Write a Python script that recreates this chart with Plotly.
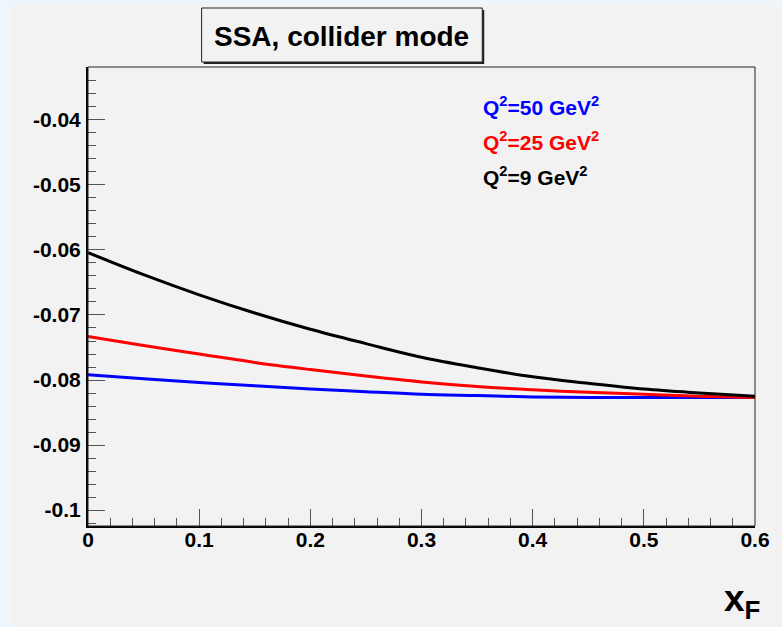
import plotly.graph_objects as go

# ---- data ----
xf = [0.0, 0.05, 0.1, 0.15, 0.2, 0.25, 0.3, 0.35, 0.4, 0.45, 0.5, 0.55, 0.6]
ssa_q50 = [-0.0792, -0.0798, -0.0804, -0.0809, -0.0814, -0.0818, -0.0822, -0.0824, -0.0826, -0.0827, -0.0827, -0.0827, -0.0827]
ssa_q25 = [-0.0733, -0.0747, -0.0760, -0.0773, -0.0784, -0.0794, -0.0803, -0.0810, -0.0815, -0.0819, -0.0822, -0.0825, -0.0827]
ssa_q9 = [-0.0604, -0.0638, -0.0669, -0.0697, -0.0722, -0.0744, -0.0765, -0.0781, -0.0795, -0.0805, -0.0814, -0.0820, -0.0825]

series_names = ["Q<sup>2</sup>=50 GeV<sup>2</sup>", "Q<sup>2</sup>=25 GeV<sup>2</sup>", "Q<sup>2</sup>=9 GeV<sup>2</sup>"]
series_colors = ["#0000ff", "#ff0000", "#000000"]

x_tickvals = [0, 0.1, 0.2, 0.3, 0.4, 0.5, 0.6]
x_ticktext = ["0", "0.1", "0.2", "0.3", "0.4", "0.5", "0.6"]
y_tickvals = [-0.04, -0.05, -0.06, -0.07, -0.08, -0.09, -0.1]
y_ticktext = ["-0.04", "-0.05", "-0.06", "-0.07", "-0.08", "-0.09", "-0.1"]

title_text = "SSA, collider mode"
xaxis_title = "x<sub>F</sub>"

# ---- layout geometry (pixels) ----
W, H = 782, 627
L, R, T, B = 88, 19, 67, 101
pw, ph = W - L - R, H - T - B


def px(xp):
    return (xp - L) / pw


def py(yp):
    return (H - B - yp) / ph


FONT = "Liberation Sans, Arial, sans-serif"
BG = "#f2f2f2"

fig = go.Figure()
for ys, name, col in zip([ssa_q50, ssa_q25, ssa_q9], series_names, series_colors):
    fig.add_trace(go.Scatter(x=xf, y=ys, mode="lines", name=name,
                             line=dict(color=col, width=3, shape="spline"),
                             showlegend=False, hoverinfo="skip"))

shapes = [
    # gray canvas
    dict(type="rect", xref="paper", yref="paper", x0=px(10), x1=px(W + 20), y0=py(H + 20), y1=py(6),
         fillcolor=BG, line=dict(width=0), layer="below"),
    # frame (thin top/right)
    dict(type="rect", xref="paper", yref="paper", x0=0, x1=1, y0=0, y1=1,
         line=dict(color="#222222", width=1), layer="above"),
    # title box shadow
    dict(type="rect", xref="paper", yref="paper", x0=px(205), x1=px(489), y0=py(64), y1=py(10),
         fillcolor="#222222", line=dict(width=0), layer="above"),
    # title box
    dict(type="rect", xref="paper", yref="paper", x0=px(203), x1=px(487), y0=py(62), y1=py(8),
         fillcolor=BG, line=dict(color="#222222", width=1), layer="above"),
]

annotations = [
    dict(text="<b>%s</b>" % title_text, xref="paper", yref="paper", x=px(345), y=py(36),
         xanchor="center", yanchor="middle", showarrow=False,
         font=dict(family=FONT, size=28, color="#000000")),
    dict(text="<b>%s</b>" % xaxis_title, xref="paper", yref="paper", x=px(770), y=py(601),
         xanchor="right", yanchor="middle", showarrow=False,
         font=dict(family=FONT, size=37, color="#000000")),
]
leg_y = [106, 141, 176]
for name, col, yy in zip(series_names, series_colors, leg_y):
    annotations.append(dict(text="<b>%s</b>" % name, xref="paper", yref="paper", x=px(486), y=py(yy),
                            xanchor="left", yanchor="middle", showarrow=False,
                            font=dict(family=FONT, size=21, color=col)))

tickfont = dict(family=FONT, size=21, color="#000000", weight="bold")

fig.update_layout(
    width=W, height=H,
    margin=dict(l=L, r=R, t=T, b=B, pad=0),
    paper_bgcolor="#eef6fc",
    plot_bgcolor="rgba(0,0,0,0)",
    shapes=shapes,
    annotations=annotations,
    showlegend=False,
    xaxis=dict(range=[0, 0.6], tickmode="array", tickvals=x_tickvals, ticktext=x_ticktext,
               ticks="inside", ticklen=17, tickwidth=1, tickcolor="#555555",
               minor=dict(dtick=0.02, tick0=0, ticks="inside", ticklen=8, tickwidth=1, tickcolor="#555555", showgrid=False),
               showgrid=False, zeroline=False, showline=True, linecolor="#000000", linewidth=2,
               tickfont=tickfont, ticklabelstandoff=-6),
    yaxis=dict(range=[-0.10246, -0.03185], tickmode="array", tickvals=y_tickvals, ticktext=y_ticktext,
               ticks="inside", ticklen=17, tickwidth=1, tickcolor="#555555",
               minor=dict(dtick=0.002, tick0=0, ticks="inside", ticklen=8, tickwidth=1, tickcolor="#555555", showgrid=False),
               showgrid=False, zeroline=False, showline=True, linecolor="#000000", linewidth=2,
               tickfont=tickfont, ticklabelstandoff=1),
)

fig.write_html("out.html")
